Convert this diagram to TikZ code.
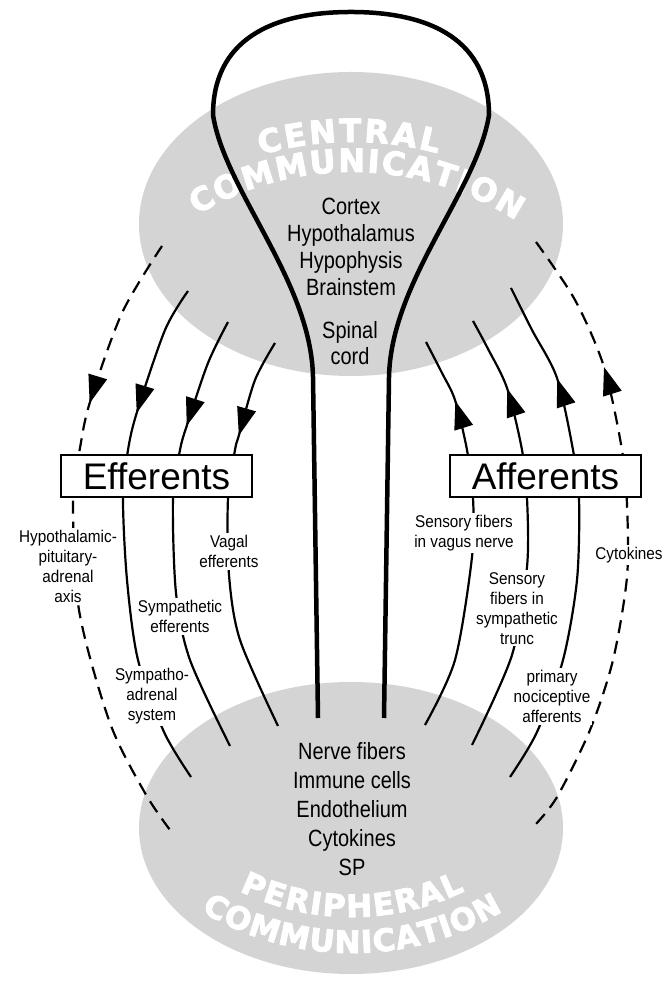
\documentclass[tikz,border=0pt]{standalone}
\usepackage{fontspec}
\setmainfont{Liberation Sans}
\newfontfamily\narrowfont{Liberation Sans}[FakeStretch=0.85]
\newfontfamily\labelfont{Liberation Sans}[FakeStretch=0.9]
\newfontfamily\heavyfont{DejaVu Sans}[UprightFont={* Bold}, FakeBold=2.8]
\usetikzlibrary{arrows.meta,decorations.markings,decorations.text}
\definecolor{ellgray}{RGB}{212,212,212}
\newcommand\bigtitle{\heavyfont\fontsize{32}{32}\selectfont}
\newcommand\bottitle{\heavyfont\fontsize{31}{31}\selectfont}
\tikzset{
  tri/.tip={Triangle[length=28pt,width=19pt]},
  fibre/.style={line width=2.2pt},
  dashfibre/.style={line width=2.2pt, dash pattern=on 13pt off 8pt},
  downtip/.style={postaction={decorate,decoration={markings,
     mark=at position #1 with {\pgfsetdash{}{0pt}\arrow{tri}}}}},
  uptip/.style={postaction={decorate,decoration={markings,
     mark=at position #1 with {\pgfsetdash{}{0pt}\arrowreversed{tri}}}}},
  lbl/.style={font=\labelfont\fontsize{17}{20}\selectfont, align=center,
     fill=white, inner sep=2pt, anchor=north},
  centretext/.style={align=center, inner sep=0pt, anchor=north},
  bigbox/.style={draw, line width=1.2pt, fill=white, minimum width=191pt,
     minimum height=42pt, inner sep=0pt, font=\fontsize{37}{37}\selectfont},
  arctext/.style={decorate, decoration={text along path, text color=white,
     text align={fit to path}, text={|\bigtitle|#1}}},
  arctextlow/.style={decorate, decoration={text along path, text color=white,
     text align={fit to path}, text={|\bottitle|#1}}}
}
\begin{document}
\begin{tikzpicture}[x=1pt,y=1pt]
\fill[white] (0,0) rectangle (664,981);
\useasboundingbox (0,0) rectangle (664,981);

% grey ellipses
\fill[ellgray] (351,757) ellipse[x radius=212, y radius=152];
\fill[ellgray] (351,153) ellipse[x radius=212, y radius=146];

% curved titles
\path[arctext=CENTRAL] ([shift={(106:331)}]352,508) arc[start angle=106, end angle=75, radius=331];
\path[arctext=COMMUNICATION] ([shift={(121:301)}]352,508) arc[start angle=121, end angle=57, radius=301];
\path[arctextlow=PERIPHERAL] ([shift={(244:257)}]352,321) arc[start angle=244, end angle=296, radius=257];
\path[arctextlow=COMMUNICATION] ([shift={(239:293)}]352,321) arc[start angle=239, end angle=301, radius=293];

% bulb (central nervous system)
\draw[line width=4.5pt] (318,263) -- (313,604)
  .. controls (311,700) and (225,790) .. (213,866)
  .. controls (213,940) and (270,969) .. (351,969)
  .. controls (432,969) and (489,940) .. (489,866)
  .. controls (477,790) and (391,700) .. (389,604) -- (384,263);

% efferent fibres (left)
\draw[dashfibre, downtip=174pt] plot[smooth] coordinates {(162,735) (122,668) (90,579) (80,533) (73,483) (79,371) (110,258) (145,188) (170,151)};
\draw[fibre, downtip=133pt] plot[smooth] coordinates {(188,690) (165,651) (137,569) (128,531) (123,483) (127,401) (138,321) (164,249) (191,204)};
\draw[fibre, downtip=112pt] plot[smooth] coordinates {(228,659) (208,618) (187,556) (180,531) (173,483) (176,388) (190,321) (230,235)};
\draw[fibre, downtip=100pt] plot[smooth] coordinates {(275,638) (255,601) (239,546) (235,531) (228,483) (229,406) (240,341) (278,255)};

% afferent fibres (right)
\draw[dashfibre, uptip=143pt] plot[smooth] coordinates {(536,739) (575,681) (604,614) (622,531) (627,476) (627,404) (613,321) (590,251) (557,184) (535,156)};
\draw[fibre, uptip=102pt] plot[smooth] coordinates {(511,693) (532,651) (557,603) (573,531) (579,483) (577,401) (563,321) (537,249) (510,204)};
\draw[fibre, uptip=76pt] plot[smooth] coordinates {(473,660) (487,634) (507,593) (522,531) (527,483) (527,414) (512,326) (472,236)};
\draw[fibre, uptip=66pt] plot[smooth] coordinates {(426,639) (442,608) (455,581) (467,531) (473,483) (472,424) (455,321) (425,256)};

% boxes
\node[bigbox] (eff) at (156.5,505) {Efferents};
\node[bigbox] (aff) at (545.5,505) {Afferents};

% fibre labels
\node[lbl] (hpa) at (68,453) {Hypothalamic-\\pituitary-\\adrenal\\axis};
\node[lbl] (vag) at (229,448) {Vagal\\efferents};
\node[lbl] (sym) at (180,383) {Sympathetic\\efferents};
\node[lbl] (sas) at (152,315) {Sympatho-\\adrenal\\system};
\node[lbl] (svn) at (464,468) {Sensory fibers\\in vagus nerve};
\node[lbl] (sst) at (517,411) {Sensory\\fibers in\\sympathetic\\trunc};
\node[lbl] (cyt) at (629,436) {Cytokines};
\node[lbl] (pna) at (552,313) {primary\\nociceptive\\afferents};

% centre texts
\node[centretext, font=\narrowfont\fontsize{23.5}{27}\selectfont] (cns) at (351,783) {Cortex\\Hypothalamus\\Hypophysis\\Brainstem};
\node[centretext, font=\narrowfont\fontsize{23.5}{26}\selectfont] (cord) at (350,660) {Spinal\\cord};
\node[centretext, font=\narrowfont\fontsize{23.5}{29}\selectfont] (per) at (352,239) {Nerve fibers\\Immune cells\\Endothelium\\Cytokines\\SP};
\end{tikzpicture}
\end{document}
